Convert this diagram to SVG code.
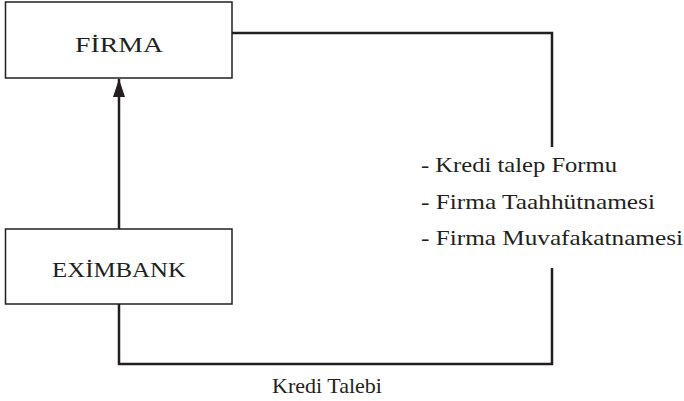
<svg xmlns="http://www.w3.org/2000/svg" width="684" height="401" viewBox="0 0 684 401">
<style>
.box{fill:#fff;stroke:#231f20;stroke-width:1.5}
.lbl{font-size:22px;fill:#231f20}
.con{fill:none;stroke:#231f20;stroke-width:2.5}
</style>
<defs>
<marker id="ah" markerWidth="18" markerHeight="12" refX="18" refY="6" orient="auto" markerUnits="userSpaceOnUse" viewBox="0 0 18 12">
<path d="M0,0 L18,6 L0,12 Z" fill="#231f20"/>
</marker>
</defs>
<g id="connectors">
<path class="con" d="M232,33 H552 V147"/>
<path class="con" d="M552,268 V364 H119 V304"/>
<line class="con" x1="119" y1="229" x2="119" y2="79" marker-end="url(#ah)"/>
</g>
<g id="firma">
<rect class="box" x="5.5" y="2" width="226.5" height="76"/>
<text class="lbl" font-family="'Liberation Serif', 'DejaVu Serif', serif" font-size="23" x="119" y="52" text-anchor="middle" textLength="88" lengthAdjust="spacingAndGlyphs">FİRMA</text>
</g>
<g id="eximbank">
<rect class="box" x="5.5" y="229" width="226.5" height="75"/>
<text class="lbl" font-family="'Liberation Serif', 'DejaVu Serif', serif" font-size="23" x="119" y="277" text-anchor="middle" textLength="134" lengthAdjust="spacingAndGlyphs">EXİMBANK</text>
</g>
<g id="documents" font-family="'Liberation Serif', 'DejaVu Serif', serif">
<text class="lbl" x="421" y="172" textLength="196" lengthAdjust="spacingAndGlyphs">- Kredi talep Formu</text>
<text class="lbl" x="421" y="209" textLength="234" lengthAdjust="spacingAndGlyphs">- Firma Taahhütnamesi</text>
<text class="lbl" x="421" y="245" textLength="262" lengthAdjust="spacingAndGlyphs">- Firma Muvafakatnamesi</text>
</g>
<g id="kredi-talebi" font-family="'Liberation Serif', 'DejaVu Serif', serif">
<text class="lbl" x="327" y="393" text-anchor="middle" textLength="110" lengthAdjust="spacingAndGlyphs">Kredi Talebi</text>
</g>
</svg>
